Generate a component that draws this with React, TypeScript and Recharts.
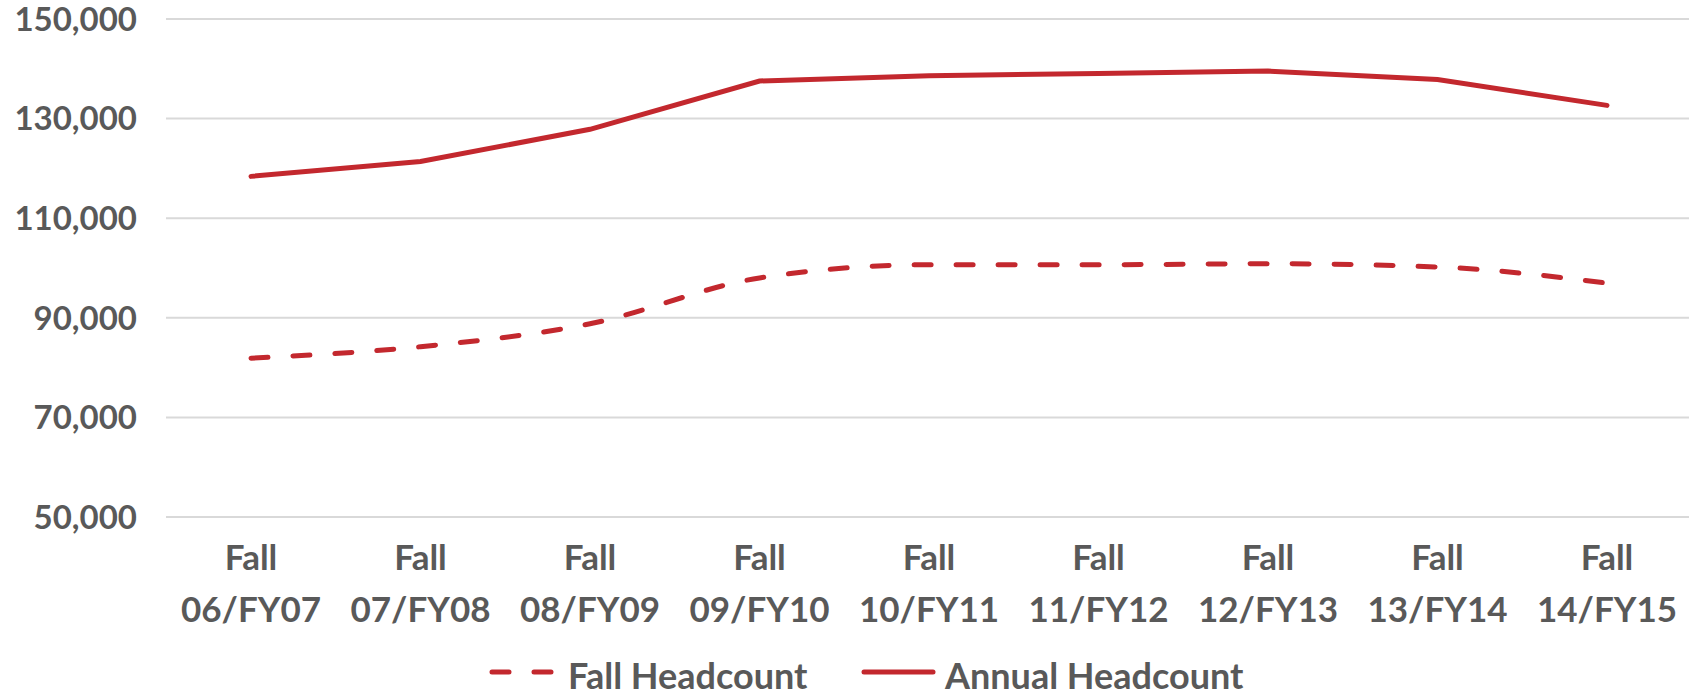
import React from 'react';
import { LineChart, Line, XAxis, YAxis, CartesianGrid } from 'recharts';

const terms = ['06/FY07', '07/FY08', '08/FY09', '09/FY10', '10/FY11', '11/FY12', '12/FY13', '13/FY14', '14/FY15'];
const fallHeadcount = [81900, 84200, 88800, 98000, 100650, 100650, 100850, 100200, 96950];
const annualHeadcount = [118400, 121400, 127850, 137550, 138600, 139050, 139550, 137850, 132650];
const yTicks = [50000, 70000, 90000, 110000, 130000, 150000];

const RED = '#C3282E';
const GREY = '#595959';
const FONT = 'Lato, "Open Sans", sans-serif';

const data = terms.map((t, i) => ({
    term: t,
    fall: fallHeadcount[i],
    annual: annualHeadcount[i],
}));

const TermTick = (props: any) => {
    const { x, y, payload } = props;
    return (
        <text x={x} textAnchor="middle" fill={GREY} fontFamily={FONT} fontWeight={700} fontSize={35}>
            <tspan x={x} y={y + 45}>Fall</tspan>
            <tspan x={x} y={y + 97}>{payload.value}</tspan>
        </text>
    );
};

const App: React.FC = () => {
    return (
        <div style={{ position: 'absolute', left: 0, top: 0, width: 1689, height: 692, overflow: 'hidden', background: '#fff' }}>
            <LineChart width={1692} height={692} data={data} margin={{ top: 19, right: 0, bottom: 0, left: 0 }}>
                <CartesianGrid horizontal vertical={false} stroke="#d9d9d9" strokeWidth={2} />
                <XAxis
                    dataKey="term"
                    axisLine={false}
                    tickLine={false}
                    height={175}
                    interval={0}
                    padding={{ left: 85, right: 85 }}
                    tick={<TermTick />}
                />
                <YAxis
                    width={166}
                    domain={[50000, 150000]}
                    ticks={yTicks}
                    axisLine={false}
                    tickLine={false}
                    tickMargin={23}
                    tickFormatter={(v: number) => v.toLocaleString('en-US')}
                    tick={{ fill: GREY, fontFamily: FONT, fontWeight: 700, fontSize: 33 }}
                />
                <Line
                    type="monotone"
                    dataKey="fall"
                    name="Fall Headcount"
                    stroke={RED}
                    strokeWidth={5}
                    strokeDasharray="17 25"
                    strokeLinecap="round"
                    dot={false}
                    isAnimationActive={false}
                />
                <Line
                    type="linear"
                    dataKey="annual"
                    name="Annual Headcount"
                    stroke={RED}
                    strokeWidth={5}
                    strokeLinecap="round"
                    dot={false}
                    isAnimationActive={false}
                />
            </LineChart>
            {/* legend sits below the axis labels, drawn as an overlay */}
            <svg width={1689} height={692} style={{ position: 'absolute', left: 0, top: 0, pointerEvents: 'none' }}>
                <line x1={492} y1={672} x2={553} y2={672} stroke={RED} strokeWidth={5} strokeDasharray="17 25" strokeLinecap="round" />
                <text x={568} y={689} fill={GREY} fontFamily={FONT} fontWeight={700} fontSize={36}>Fall Headcount</text>
                <line x1={864} y1={672} x2={933} y2={672} stroke={RED} strokeWidth={5} strokeLinecap="round" />
                <text x={945} y={689} fill={GREY} fontFamily={FONT} fontWeight={700} fontSize={36}>Annual Headcount</text>
            </svg>
        </div>
    );
};

export default App;
